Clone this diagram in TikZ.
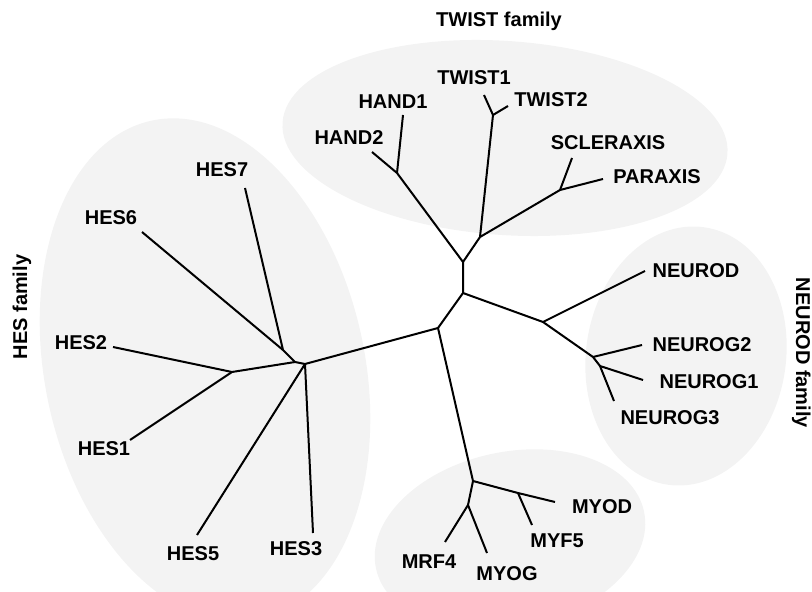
\documentclass[tikz,border=0pt]{standalone}
\usepackage{fontspec}
\setmainfont{Liberation Sans}
\definecolor{famgray}{RGB}{243,243,243}
\begin{document}
\begin{tikzpicture}[x=0.5pt, y=-0.5pt, line width=1pt, line join=round,
  fam/.style={fill=famgray},
  gene/.style={font=\bfseries, inner sep=0pt},
  famlabel/.style={font=\bfseries, inner sep=0pt, anchor=base}]
\useasboundingbox (0,0) rectangle (812,592);

% family areas
\fill[fam, rotate around={12:(205,370)}] (205,370) ellipse [x radius=160, y radius=255];
\fill[fam, rotate around={-4:(505,138)}] (505,138) ellipse [x radius=223, y radius=97];
\fill[fam, rotate around={-8:(686,356)}] (686,356) ellipse [x radius=100, y radius=130];
\fill[fam, rotate around={12:(510,540)}] (510,540) ellipse [x radius=137, y radius=88];

% family names
\node (twistfam) [famlabel] at (499,27) {TWIST family};
\node (hesfam) [famlabel, rotate=90] at (27,307) {HES family};
\node (neurodfam) [famlabel, rotate=-90] at (796,353) {NEUROD family};

% branch points
\coordinate (c0) at (438,328);
\coordinate (c1) at (463,293);
\coordinate (tw0) at (463,262);
\coordinate (hand) at (397,173);
\coordinate (tw1) at (480,237);
\coordinate (twsplit) at (493,115);
\coordinate (scp) at (560,190);
\coordinate (nd) at (543,322);
\coordinate (ng) at (593,357);
\coordinate (ng13) at (600,366);
\coordinate (my) at (473,481);
\coordinate (myd) at (518,493);
\coordinate (mrg) at (468,505);
\coordinate (hesB) at (305,364);
\coordinate (hesA) at (295,362);
\coordinate (hes12) at (232,372);
\coordinate (hes67) at (283,350);

% leaf ends
\coordinate (hand2end) at (372,152);
\coordinate (hand1end) at (403,115);
\coordinate (twist1end) at (484,95);
\coordinate (twist2end) at (508,106);
\coordinate (sclend) at (572,158);
\coordinate (parend) at (603,179);
\coordinate (neurodend) at (645,271);
\coordinate (ng2end) at (642,345);
\coordinate (ng1end) at (643,380);
\coordinate (ng3end) at (614,401);
\coordinate (myodend) at (555,502);
\coordinate (myf5end) at (532,525);
\coordinate (mrf4end) at (445,542);
\coordinate (myogend) at (487,553);
\coordinate (hes3end) at (313,533);
\coordinate (hes5end) at (197,535);
\coordinate (hes1end) at (130,440);
\coordinate (hes2end) at (113,347);
\coordinate (hes6end) at (142,232);
\coordinate (hes7end) at (245,188);

% gene names
\node (hand2) [gene] at (349,138) {HAND2};
\node (hand1) [gene] at (393,102) {HAND1};
\node (twist1) [gene] at (474,78) {TWIST1};
\node (twist2) [gene] at (551,100) {TWIST2};
\node (scleraxis) [gene] at (608,143) {SCLERAXIS};
\node (paraxis) [gene] at (657,177) {PARAXIS};
\node (neurod) [gene] at (696,271) {NEUROD};
\node (neurog2) [gene] at (702,345) {NEUROG2};
\node (neurog1) [gene] at (709,382) {NEUROG1};
\node (neurog3) [gene] at (670,418) {NEUROG3};
\node (myod) [gene] at (602,507) {MYOD};
\node (myf5) [gene] at (557,541) {MYF5};
\node (mrf4) [gene] at (429,562) {MRF4};
\node (myog) [gene] at (507,574) {MYOG};
\node (hes7) [gene] at (222,170) {HES7};
\node (hes6) [gene] at (111,218) {HES6};
\node (hes2) [gene] at (81,343) {HES2};
\node (hes1) [gene] at (104,449) {HES1};
\node (hes5) [gene] at (193,554) {HES5};
\node (hes3) [gene] at (296,549) {HES3};

% TWIST branches
\draw (hand2end) -- (hand) -- (tw0) -- (tw1) -- (scp) -- (parend);
\draw (hand1end) -- (hand);
\draw (tw1) -- (twsplit) -- (twist1end);
\draw (twsplit) -- (twist2end);
\draw (scp) -- (sclend);
% HES branches
\draw (tw0) -- (c1) -- (c0) -- (hesB) -- (hesA) -- (hes67) -- (hes6end);
\draw (hes67) -- (hes7end);
\draw (hesA) -- (hes12) -- (hes2end);
\draw (hes12) -- (hes1end);
\draw (hesB) -- (hes3end);
\draw (hesB) -- (hes5end);
% NEUROD branches
\draw (c1) -- (nd) -- (ng) -- (ng13) -- (ng1end);
\draw (nd) -- (neurodend);
\draw (ng) -- (ng2end);
\draw (ng13) -- (ng3end);
% MYO branches
\draw (c0) -- (my) -- (myd) -- (myodend);
\draw (myd) -- (myf5end);
\draw (my) -- (mrg) -- (mrf4end);
\draw (mrg) -- (myogend);
\end{tikzpicture}
\end{document}
